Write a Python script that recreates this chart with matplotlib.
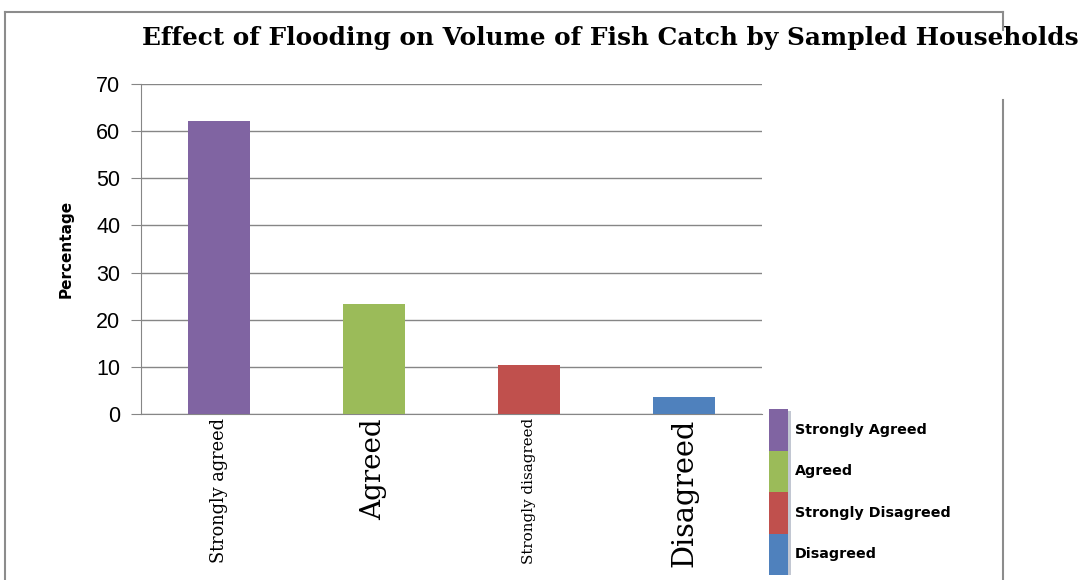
import matplotlib
matplotlib.use("Agg")
import matplotlib.pyplot as plt
from matplotlib.lines import Line2D

# data
categories = ["Strongly agreed", "Agreed", "Strongly disagreed", "Disagreed"]
values = [62.2, 23.3, 10.4, 3.6]
legend_labels = ["Strongly Agreed", "Agreed", "Strongly Disagreed", "Disagreed"]
colors = ["#8064a2", "#9bbb59", "#c0504d", "#4f81bd"]
label_sizes = [12.8, 20, 10.9, 20.7]

W, H = 1081, 580
fig = plt.figure(figsize=(W / 100, H / 100), dpi=100)
ax = fig.add_axes([141 / W, 1 - 414 / H, 621 / W, 330 / H])

x = range(len(categories))
bars = ax.bar(x, values, width=0.4, color=colors, zorder=3)

ax.set_xlim(-0.5, len(categories) - 0.5)
ax.set_ylim(0, 70)
ax.set_yticks(range(0, 71, 10))
ax.yaxis.grid(True, color="#868686", linewidth=1.0, zorder=0)
for s in ["top", "right"]:
    ax.spines[s].set_visible(False)
for s in ["left", "bottom"]:
    ax.spines[s].set_color("#868686")
ax.tick_params(axis="y", length=7, color="#868686", labelsize=15.5, pad=8)
ax.tick_params(axis="x", length=0, pad=3)
for lbl in ax.get_yticklabels():
    lbl.set_family("Liberation Sans")

ax.set_xticks(list(x))
ax.set_xticklabels(categories, rotation=90, va="top", family="DejaVu Serif")
for lbl, sz in zip(ax.get_xticklabels(), label_sizes):
    lbl.set_fontsize(sz)

ax.set_ylabel("Percentage", fontsize=11, fontweight="bold", labelpad=16)

fig.text(610 / W, 1 - 38 / H,
         "Effect of Flooding on Volume of Fish Catch by Sampled Households",
         ha="center", va="center", fontsize=17.8, fontweight="bold",
         family="DejaVu Serif")

# legend: stacked tall swatches, built in its own little axes (pixel units)
lax = fig.add_axes([769 / W, 1 - 575 / H, 230 / W, 166 / H])
lax.set_xlim(0, 230)
lax.set_ylim(len(legend_labels) - 0.5, -0.5)
lax.axis("off")
rows = range(len(legend_labels))
lax.barh([r + 0.06 for r in rows], 19, height=1.0, left=3, color="#9aa3b5", alpha=0.6, zorder=1)
lax.barh(list(rows), 19, height=1.0, left=0, color=colors, zorder=2)
for r, lab in zip(rows, legend_labels):
    lax.text(26, r, lab, va="center", ha="left", fontsize=10.3, fontweight="bold")

# outer frame of the chart area
fc = "#8c8c8c"
fig.add_artist(Line2D([5 / W, 5 / W], [0, 1 - 12 / H], transform=fig.transFigure, color=fc, lw=1.5))
fig.add_artist(Line2D([5 / W, 1003 / W], [1 - 12 / H, 1 - 12 / H], transform=fig.transFigure, color=fc, lw=1.5))
fig.add_artist(Line2D([1003 / W, 1003 / W], [1 - 12 / H, 1 - 30 / H], transform=fig.transFigure, color=fc, lw=1.5))
fig.add_artist(Line2D([1003 / W, 1003 / W], [1 - 100 / H, 0], transform=fig.transFigure, color=fc, lw=1.5))

fig.savefig("out.png", dpi=100)
